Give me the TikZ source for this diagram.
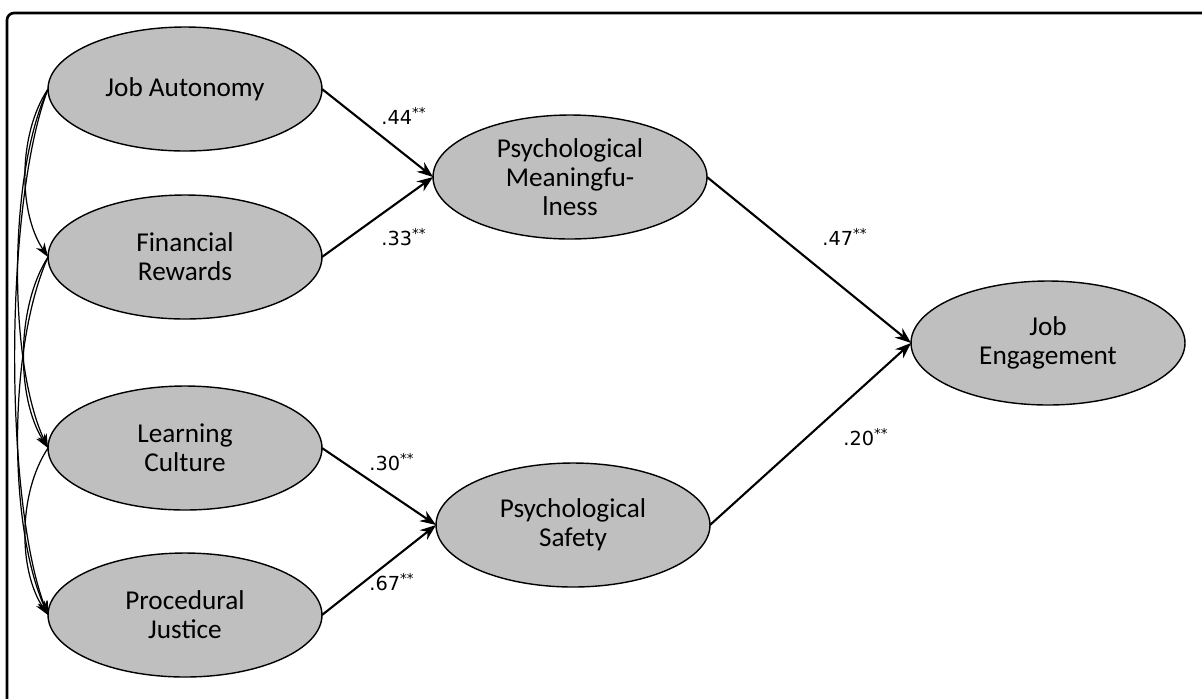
\documentclass[tikz,border=0pt]{standalone}
\usepackage{fontspec}
\setmainfont{Carlito}
\newfontfamily\labelfont{DejaVu Sans}
\usetikzlibrary{shapes.geometric,arrows.meta}

\begin{document}
\begin{tikzpicture}[x=0.02cm, y=-0.02cm,
		latentstyle/.style={draw, ellipse, fill=black!25, line width=0.8pt, inner sep=0mm, outer sep=0mm,
			minimum width=5.48cm, minimum height=2.48cm, align=center,
			font=\fontsize{15.5}{16.5}\selectfont},
		pathstyle/.style={-{Stealth[length=3.2mm, width=2.4mm]}, line width=1.2pt},
		covstyle/.style={-{Stealth[length=2.8mm, width=2mm]}, line width=0.7pt},
		labelstyle/.style={font=\labelfont\fontsize{11}{13}\selectfont, inner sep=0mm}]

		\useasboundingbox (0,0) rectangle (1202,698);
		\draw[line width=1.5pt, rounded corners=4pt] (7,700) -- (7,13) -- (1210,13);

		% exogenous
		\node [latentstyle] (ja) at (185,89) {Job Autonomy};
		\node [latentstyle] (fr) at (185,257) {Financial\\Rewards};
		\node [latentstyle] (lc) at (185,448) {Learning\\Culture};
		\node [latentstyle] (pj) at (185,615) {Procedural\\Justice};

		% mediators and outcome
		\node [latentstyle] (pm) at (570,177) {Psychological\\Meaningfu-\\lness};
		\node [latentstyle] (ps) at (573,525) {Psychological\\Safety};
		\node [latentstyle] (je) at (1048,343) {Job\\Engagement};

		\foreach \from/\to in {ja/pm, fr/pm, lc/ps, pj/ps, pm/je, ps/je}
		{
			\draw[pathstyle] (\from.east) -- (\to.west);
		}

		% covariances
		\foreach \a/\b/\dx/\dy in {ja/fr/30/45, ja/lc/40/85, ja/pj/44/115, fr/lc/32/50, fr/pj/40/90, lc/pj/30/45}
		{
			\draw[covstyle] (\a.west) .. controls +(-\dx,\dy) and +(-\dx,-\dy) .. (\b.west);
		}

		\node [labelstyle] (l44) at (404,116) {.44\textsuperscript{**}};
		\node [labelstyle] (l33) at (404,237) {.33\textsuperscript{**}};
		\node [labelstyle] (l30) at (392,462) {.30\textsuperscript{**}};
		\node [labelstyle] (l67) at (392,582) {.67\textsuperscript{**}};
		\node [labelstyle] (l47) at (845,237) {.47\textsuperscript{**}};
		\node [labelstyle] (l20) at (866,437) {.20\textsuperscript{**}};

		\end{tikzpicture}
\end{document}
